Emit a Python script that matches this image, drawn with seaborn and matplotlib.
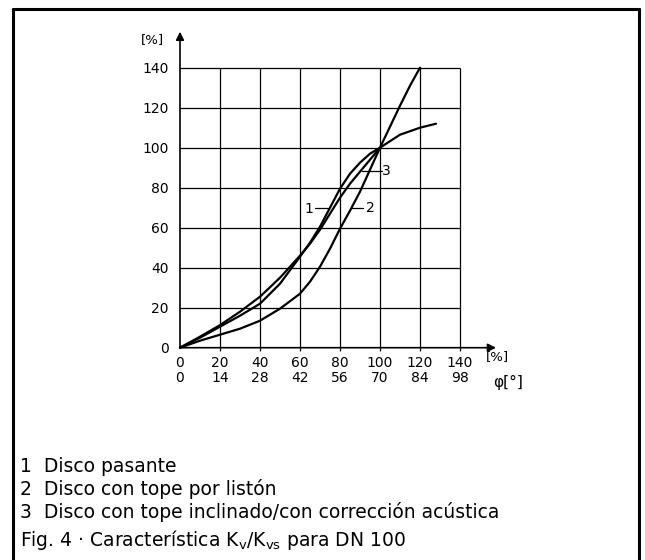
import numpy as np
import pandas as pd
import seaborn as sns
import matplotlib.pyplot as plt
from matplotlib.lines import Line2D

# curve 1: Disco pasante
x1 = [0, 10, 20, 30, 40, 50, 60, 65, 70, 75, 80, 85, 90, 95, 100, 110, 120, 128]
y1 = [0, 5, 10.5, 16, 22, 32, 45.5, 52.5, 60.5, 70, 79.5, 87, 92.5, 97, 100, 106.5, 110, 112]
# curve 2: Disco con tope por liston
x2 = [0, 10, 20, 30, 40, 50, 60, 65, 70, 75, 80, 85, 90, 95, 100, 105, 110, 115, 120]
y2 = [0, 3.5, 6.5, 9.5, 13.5, 19.5, 27, 33, 40.5, 49.5, 59.5, 68.5, 78, 89, 100, 110.5, 121, 131, 140]
# curve 3: Disco con tope inclinado
x3 = [0, 10, 20, 30, 40, 50, 60, 65, 70, 75, 80, 85, 90, 95, 100]
y3 = [0, 5.5, 11.3, 18, 25.5, 35, 46, 52, 59, 67, 75, 82, 88, 94, 100]

x_ticks = [0, 20, 40, 60, 80, 100, 120, 140]
x_labels_pct = ['0', '20', '40', '60', '80', '100', '120', '140']
x_labels_deg = ['0', '14', '28', '42', '56', '70', '84', '98']
y_ticks = [0, 20, 40, 60, 80, 100, 120, 140]

legend_lines = ['1  Disco pasante',
                '2  Disco con tope por listón',
                '3  Disco con tope inclinado/con corrección acústica']
caption = 'Fig. 4 · Característica K$_\\mathrm{v}$/K$_\\mathrm{vs}$ para DN 100'

sns.set_style('white')
plt.rcParams['font.family'] = ['DejaVu Sans']
plt.rcParams['mathtext.fontset'] = 'dejavusans'
plt.rcParams['text.color'] = 'black'
plt.rcParams['xtick.color'] = 'black'
plt.rcParams['ytick.color'] = 'black'

fig = plt.figure(figsize=(6.45, 5.6), dpi=100)
ax = fig.add_axes([180 / 645, 1 - 347.7 / 560, 320 / 645, 310 / 560])
ax.set_xlim(0, 160)
ax.set_ylim(0, 155)

# grid
ax.vlines(x_ticks[1:], -1.5, 140, color='black', lw=0.9, clip_on=False)
ax.hlines(y_ticks[1:], 0, 140, color='black', lw=0.9)

# curves
for xs, ys in [(x1, y1), (x2, y2), (x3, y3)]:
    d = pd.DataFrame({'x': xs, 'y': ys})
    sns.lineplot(data=d, x='x', y='y', ax=ax, color='black', lw=1.6, sort=False, clip_on=False)

# axes with arrows
ax.annotate('', xy=(158, 0), xytext=(0, 0), annotation_clip=False,
            arrowprops=dict(arrowstyle='-|>', color='black', lw=1.2, mutation_scale=12, shrinkA=0, shrinkB=0))
ax.annotate('', xy=(0, 158), xytext=(0, 0), annotation_clip=False,
            arrowprops=dict(arrowstyle='-|>', color='black', lw=1.2, mutation_scale=12, shrinkA=0, shrinkB=0))

for s in ax.spines.values():
    s.set_visible(False)

ax.set_yticks(y_ticks)
ax.set_yticklabels([str(v) for v in y_ticks], fontsize=10)
ax.tick_params(axis='y', direction='out', length=6, width=0.9, pad=2, color='black')
ax.set_xticks(x_ticks)
ax.set_xticklabels([a + '\n' + b for a, b in zip(x_labels_pct, x_labels_deg)],
                   fontsize=10, linespacing=1.05)
ax.tick_params(axis='x', length=0, pad=6)
ax.set_xlabel('')
ax.set_ylabel('')

ax.text(-14, 154, '[%]', fontsize=9.5, ha='center', va='center', clip_on=False)
ax.text(158.5, -4.5, '[%]', fontsize=9.5, ha='center', va='center', clip_on=False)
ax.text(164, -17.5, 'φ[°]', fontsize=11, ha='center', va='center', clip_on=False)

# curve labels
ax.plot([67.5, 74], [69.7, 69.7], color='black', lw=0.9)
ax.text(64.2, 69.2, '1', fontsize=10, ha='center', va='center')
ax.plot([85.8, 91.7], [70, 70], color='black', lw=0.9)
ax.text(95, 69.7, '2', fontsize=10, ha='center', va='center')
ax.plot([90.8, 100.8], [88.5, 88.5], color='black', lw=0.9)
ax.text(103.3, 88.5, '3', fontsize=10, ha='center', va='center')

# text below
for i, t in enumerate(legend_lines):
    fig.text(20 / 645, 1 - (466 + 23 * i) / 560, t, fontsize=13.5, ha='left', va='center')
fig.text(20 / 645, 1 - 540 / 560, caption, fontsize=13.5, ha='left', va='center')

# frame
fig.add_artist(Line2D([13 / 645, 13 / 645], [0, 1 - 9 / 560], color='black', lw=2.2))
fig.add_artist(Line2D([639 / 645, 639 / 645], [0, 1 - 9 / 560], color='black', lw=2.2))
fig.add_artist(Line2D([13 / 645, 639 / 645], [1 - 9 / 560, 1 - 9 / 560], color='black', lw=2.2))

fig.savefig('out.png', dpi=100)
